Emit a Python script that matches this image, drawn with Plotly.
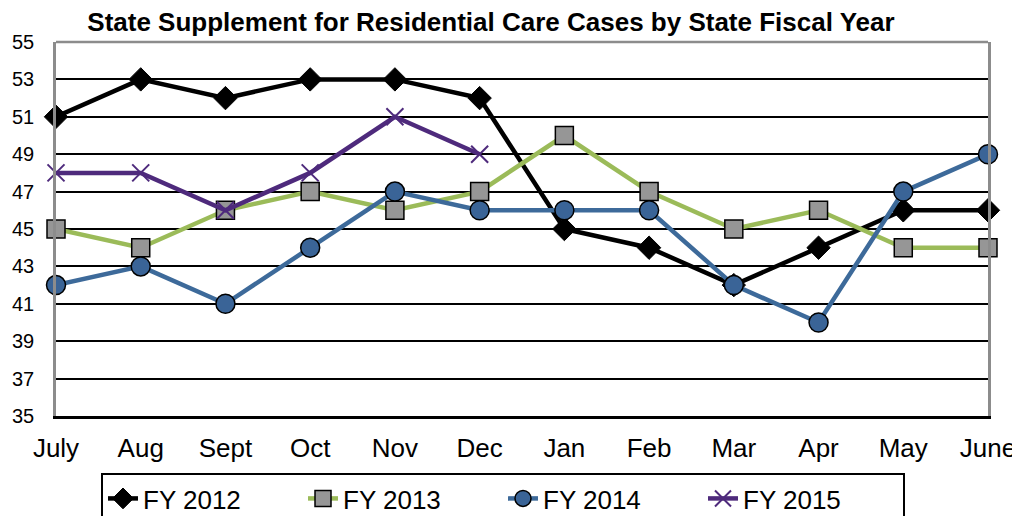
import plotly.graph_objects as go

months = ["July", "Aug", "Sept", "Oct", "Nov", "Dec", "Jan", "Feb", "Mar", "Apr", "May", "June"]
fy2012 = [51, 53, 52, 53, 53, 52, 45, 44, 42, 44, 46, 46]
fy2013 = [45, 44, 46, 47, 46, 47, 50, 47, 45, 46, 44, 44]
fy2014 = [42, 43, 41, 44, 47, 46, 46, 46, 42, 40, 47, 49]
fy2015 = [48, 48, 46, 48, 51, 49]
y_ticks = [35, 37, 39, 41, 43, 45, 47, 49, 51, 53, 55]

x_idx = list(range(len(months)))
FONT = "Arial, Liberation Sans, sans-serif"

fig = go.Figure()
fig.add_trace(go.Scatter(
    x=x_idx, y=fy2012, name="FY 2012", mode="lines+markers",
    line=dict(color="#000000", width=4.5),
    marker=dict(symbol="diamond", size=18, color="#000000", line=dict(color="#000000", width=1)),
    cliponaxis=False))
fig.add_trace(go.Scatter(
    x=x_idx, y=fy2013, name="FY 2013", mode="lines+markers",
    line=dict(color="#9BBB59", width=4.5),
    marker=dict(symbol="square", size=18, color="#969696", line=dict(color="#000000", width=1.5)),
    cliponaxis=False))
fig.add_trace(go.Scatter(
    x=x_idx, y=fy2014, name="FY 2014", mode="lines+markers",
    line=dict(color="#3D6A9A", width=4.5),
    marker=dict(symbol="circle", size=19, color="#3A6497", line=dict(color="#000000", width=1.5)),
    cliponaxis=False))
fig.add_trace(go.Scatter(
    x=x_idx[:len(fy2015)], y=fy2015, name="FY 2015", mode="lines+markers",
    line=dict(color="#4E2A7C", width=4.5),
    marker=dict(symbol="x-thin", size=17, color="#4E2A7C", line=dict(color="#4E2A7C", width=2)),
    cliponaxis=False))

fig.add_shape(type="line", xref="paper", yref="paper", x0=0, x1=1, y0=1, y1=1,
              line=dict(color="#8C8C8C", width=2.5))

fig.update_layout(
    width=1020, height=516,
    margin=dict(l=48, r=40, t=34, b=108, autoexpand=False),
    paper_bgcolor="white", plot_bgcolor="white",
    font=dict(family=FONT, color="#000000"),
    title=dict(text="<b>State Supplement for Residential Care Cases by State Fiscal Year</b>",
               x=0.4735, xanchor="center", y=0.99, yanchor="top",
               font=dict(size=26, family=FONT, color="#000000")),
    xaxis=dict(range=[0, 11], tickvals=x_idx, ticktext=months, showgrid=False, zeroline=False,
               showline=True, linecolor="#000000", linewidth=2.5, ticks="", automargin=False,
               tickfont=dict(size=26, family=FONT), ticklabelstandoff=7),
    yaxis=dict(range=[35, 55], tickvals=y_ticks, showgrid=True, gridcolor="#000000", gridwidth=2,
               zeroline=False, showline=True, linecolor="#8C8C8C", linewidth=2.5, mirror=True,
               ticks="", automargin=False,
               tickfont=dict(size=20, family=FONT), ticklabelstandoff=15),
    legend=dict(orientation="h", x=0.4853, xanchor="center", xref="container",
                y=0.0988, yanchor="top", yref="container",
                bordercolor="#000000", borderwidth=2, bgcolor="white",
                font=dict(size=26, family=FONT), entrywidth=155, entrywidthmode="pixels",
                tracegroupgap=0),
    showlegend=True,
)

fig.write_html("out.html")
